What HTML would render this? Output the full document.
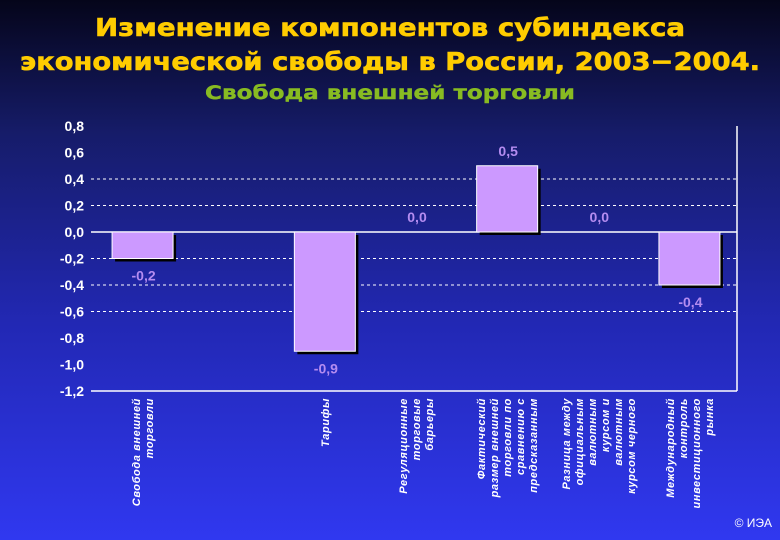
<!DOCTYPE html>
<html><head><meta charset="utf-8">
<style>
html,body{margin:0;padding:0;width:780px;height:540px;overflow:hidden;}
body{background:linear-gradient(to bottom,#05051a 0%,#161c6a 25%,#2228b4 60%,#3038f0 100%);font-family:"Liberation Sans","DejaVu Sans",sans-serif;}
</style></head>
<body>
<svg id="chart" width="780" height="540" xmlns="http://www.w3.org/2000/svg" style="position:absolute;left:0;top:0">
<text x="390" y="36" text-anchor="middle" font-family="DejaVu Sans, sans-serif" font-weight="bold" font-size="25" fill="#ffcc00" stroke="#ffcc00" stroke-width="0.6" textLength="590" lengthAdjust="spacingAndGlyphs">Изменение компонентов субиндекса</text>
<text x="390" y="70" text-anchor="middle" font-family="DejaVu Sans, sans-serif" font-weight="bold" font-size="25" fill="#ffcc00" stroke="#ffcc00" stroke-width="0.6" textLength="740" lengthAdjust="spacingAndGlyphs">экономической свободы в России, 2003−2004.</text>
<text x="390" y="99" text-anchor="middle" font-family="DejaVu Sans, sans-serif" font-weight="bold" font-size="19" fill="#88bb22" stroke="#88bb22" stroke-width="0.4" textLength="370" lengthAdjust="spacingAndGlyphs">Свобода внешней торговли</text>
<g id="plot"></g>
<text x="772" y="527" text-anchor="end" font-size="12" fill="#ffffff">© ИЭА</text>
</svg>
<script>
const categories = [["Свобода внешней","торговли"],[],["Тарифы"],["Регуляционные","торговые","барьеры"],["Фактический","размер внешней","торговли по","сравнению с","предсказанным"],["Разница между","официальным","валютным","курсом и","валютным","курсом черного"],["Международный","контроль","инвестиционного","рынка"]];
const values = [-0.2, null, -0.9, 0.0, 0.5, 0.0, -0.4];
const valueLabels = ["-0,2", "", "-0,9", "0,0", "0,5", "0,0", "-0,4"];
const yTicks = [0.8,0.6,0.4,0.2,0,-0.2,-0.4,-0.6,-0.8,-1.0,-1.2];
const gridTicks = [0.4,0.2,-0.2,-0.4,-0.6];

const NS="http://www.w3.org/2000/svg";
const g=document.getElementById('plot');
const x0=95,x1=737,yTop=126,yBot=391,vMax=0.8,vMin=-1.2;
function y(v){return yTop+(vMax-v)/(vMax-vMin)*(yBot-yTop);}
const slot=(x1-x0-4)/categories.length;
function xc(i){return x0+slot*(i+0.5)+2;}
function mk(tag,attrs){const e=document.createElementNS(NS,tag);for(const k in attrs)e.setAttribute(k,attrs[k]);g.appendChild(e);return e;}

yTicks.forEach(t=>{
  const e=mk('text',{x:84,y:y(t)+5,'text-anchor':'end','font-size':'14','font-weight':'bold',fill:'#ffffff'});
  
  
  e.textContent=t.toFixed(1).replace('.',',');
});
gridTicks.forEach(t=>{
  const e=mk('line',{x1:91,x2:x1,y1:y(t),y2:y(t),stroke:'#ffffff','stroke-width':'1','stroke-dasharray':'3,3'});
  
  
});
let e=mk('line',{x1:91,x2:x1,y1:y(0),y2:y(0),stroke:'#ffffff','stroke-width':'1.5'});


e=mk('line',{x1:91,x2:x1,y1:yBot,y2:yBot,stroke:'#ffffff','stroke-width':'1.5'});


e=mk('line',{x1:x1,x2:x1,y1:yTop,y2:yBot,stroke:'#ffffff','stroke-width':'1.5'});



const bw=61;
values.forEach((v,i)=>{
  if(v===null)return;
  const cx=xc(i), ya=Math.min(y(v),y(0)), h=Math.abs(y(v)-y(0));
  if(h>0){
    const s=mk('rect',{x:cx-bw/2+3,y:ya+3,width:bw,height:h,fill:'#000000'});
    
    
    const r=mk('rect',{x:cx-bw/2,y:ya,width:bw,height:h,fill:'#cc99ff',stroke:'#ffffff','stroke-width':'1'});
    
    
  }
  const ly = v>0 ? y(v)-10 : (v<0 ? y(v)+22 : y(0)-10);
  const t=mk('text',{x:cx+1,y:ly,'text-anchor':'middle','font-size':'14','font-weight':'bold',fill:'#b48cf0'});
  
  
  t.textContent=valueLabels[i];
});

categories.forEach((lines,i)=>{
  const cx=xc(i), n=lines.length, lh=13;
  lines.forEach((ln,j)=>{
    const xx=cx+(j-(n-1)/2)*lh+4;
    const t=mk('text',{x:xx,y:398,'text-anchor':'end','font-size':'11','font-weight':'bold','font-style':'italic','letter-spacing':'0.6',fill:'#ffffff',transform:`rotate(-90 ${xx} 398)`});
    
    
    t.textContent=ln;
  });
});
</script>
</body></html>
